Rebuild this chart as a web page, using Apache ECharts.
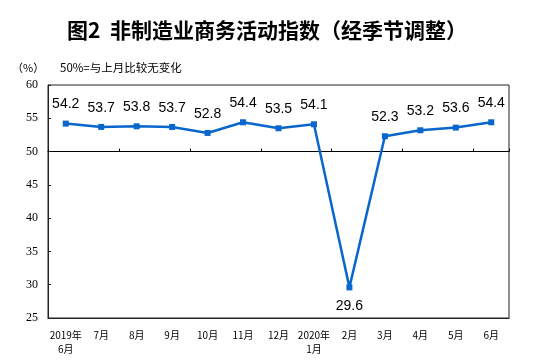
<!DOCTYPE html>
<html><head><meta charset="utf-8">
<script src="https://cdn.jsdelivr.net/npm/echarts@6/dist/echarts.min.js"></script>
<style>html,body{margin:0;padding:0;background:#fff}#c{width:554px;height:362px}</style>
</head><body><div id="c"></div>
<script>
var categories = ['2019年\n6月','7月','8月','9月','10月','11月','12月','2020年\n1月','2月','3月','4月','5月','6月'];
var values = [54.2,53.7,53.8,53.7,52.8,54.4,53.5,54.1,29.6,52.3,53.2,53.6,54.4];
var yTicks = {min:25, max:60, interval:5};
var titleText = '图2  非制造业商务活动指数（经季节调整）';
var unitText = '（%）';
var noteText = '50%=与上月比较无变化';

var G = {left:48, right:45, top:85, bottom:44};
var plotH = 362 - G.top - G.bottom;
var h50 = plotH * (yTicks.max - 50) / (yTicks.max - yTicks.min);

var chart = echarts.init(document.getElementById('c'), null, {renderer:'canvas'});
chart.setOption({
  animation:false,
  backgroundColor:'#fff',
  title:{text:titleText, left:62, top:15,
    textStyle:{fontFamily:'Noto Sans CJK SC', fontSize:21, fontWeight:'bold', color:'#000'}},
  graphic:[
    {type:'text', left:12, top:62, style:{text:unitText, font:'11px "Noto Sans CJK SC"', fill:'#000'}},
    {type:'text', left:60, top:62, style:{text:noteText, font:'11.5px "Noto Sans CJK SC"', fill:'#000'}}
  ],
  grid:[
    {left:G.left, right:G.right, top:G.top, bottom:G.bottom, show:true, borderColor:'#222', borderWidth:1},
    {left:G.left, right:G.right, top:G.top, height:h50}
  ],
  xAxis:[
    {type:'category', gridIndex:0, data:categories, boundaryGap:true,
      axisLine:{show:true, lineStyle:{color:'#222'}}, axisTick:{show:false},
      axisLabel:{margin:10, fontFamily:'Noto Sans CJK SC', fontSize:10, color:'#000', lineHeight:14, interval:0}},
    {type:'category', gridIndex:1, data:categories, boundaryGap:true, position:'bottom',
      axisLine:{show:true, lineStyle:{color:'#000'}},
      axisTick:{show:true, inside:true, length:3, lineStyle:{color:'#000'}},
      axisLabel:{show:false}}
  ],
  yAxis:[
    {type:'value', gridIndex:0, min:yTicks.min, max:yTicks.max, interval:yTicks.interval,
      splitLine:{show:false},
      axisLine:{show:true, lineStyle:{color:'#222'}},
      axisTick:{show:true, inside:true, length:3, lineStyle:{color:'#222'}},
      axisLabel:{margin:10, fontFamily:'Liberation Serif', fontSize:12, color:'#000'}},
    {type:'value', gridIndex:1, show:false}
  ],
  series:[{
    type:'line', xAxisIndex:0, yAxisIndex:0, data:values.map(function(v,i){
      return i===8 ? {value:v, label:{position:'bottom'}} : v;
    }),
    symbol:'rect', symbolSize:6, showAllSymbol:true,
    lineStyle:{color:'#0866cc', width:2.5},
    itemStyle:{color:'#0866cc'},
    label:{show:true, position:'top', distance:9, fontFamily:'Liberation Sans', fontSize:14, color:'#000'}
  }]
});
</script></body></html>
